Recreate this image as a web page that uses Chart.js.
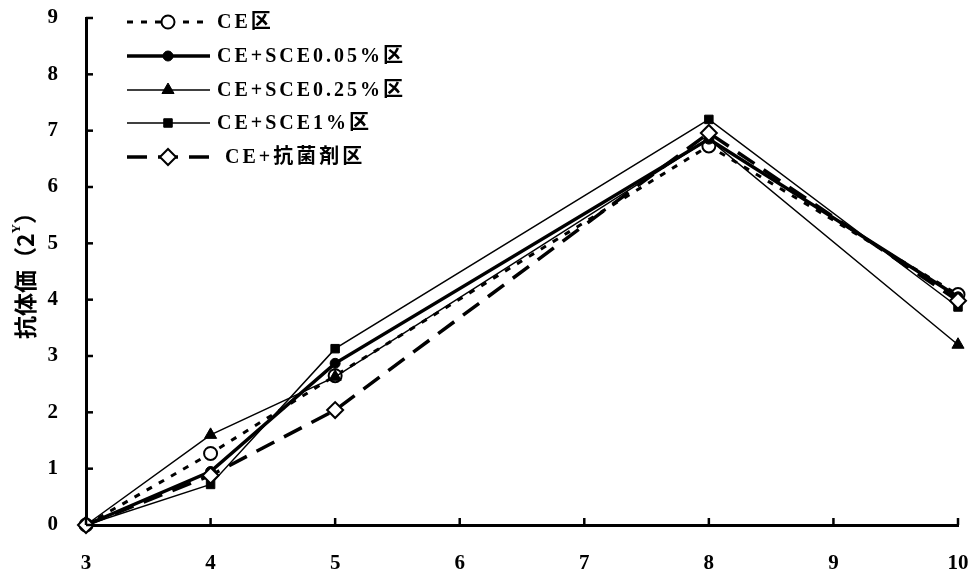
<!DOCTYPE html>
<html>
<head>
<meta charset="utf-8">
<script src="https://cdn.jsdelivr.net/npm/chart.js@4/dist/chart.umd.min.js"></script>
<style>
  html, body { margin: 0; padding: 0; background: #fff; }
  #wrap { width: 979px; height: 579px; position: relative; }
</style>
</head>
<body>
<div id="wrap"><canvas id="chart"></canvas></div>
<script>
// days after inoculation (x) and antibody titre (log2) per group
const xDays = [3, 4, 5, 8, 10];
const ceVals = [0, 1.27, 2.65, 6.73, 4.09];
const sce005Vals = [0, 0.95, 2.87, 6.85, 4.05];
const sce025Vals = [0, 1.6, 2.63, 6.85, 3.2];
const sce1Vals = [0, 0.72, 3.13, 7.2, 3.87];
const antiVals = [0, 0.88, 2.04, 6.96, 3.98];
const seriesLabels = ['CE区', 'CE+SCE0.05%区', 'CE+SCE0.25%区', 'CE+SCE1%区', ' CE+抗菌剤区'];
const xTicks = [3, 4, 5, 6, 7, 8, 9, 10];
const yTicks = [0, 1, 2, 3, 4, 5, 6, 7, 8, 9];

const numFont = { family: '"Liberation Serif", "DejaVu Serif", serif', size: 21, weight: 'bold' };
const legendFont = 'bold 20px "Liberation Serif", "Noto Sans CJK JP", serif';

function pts(vals) {
    return vals.map((v, i) => ({ x: xDays[i], y: v }));
}

// inward tick marks, y title with superscript, legend inside the plot
const decorPlugin = {
    id: 'decor',
    afterDraw(chart) {
        const ctx = chart.ctx;
        const xs = chart.scales.x, ys = chart.scales.y;
        const area = chart.chartArea;
        ctx.save();
        ctx.strokeStyle = '#000';
        ctx.lineWidth = 2.5;
        yTicks.forEach(t => {
            const py = ys.getPixelForValue(t);
            ctx.beginPath();
            ctx.moveTo(area.left, py);
            ctx.lineTo(area.left + 7, py);
            ctx.stroke();
        });
        xTicks.forEach(t => {
            const px = xs.getPixelForValue(t);
            ctx.beginPath();
            ctx.moveTo(px, area.bottom);
            ctx.lineTo(px, area.bottom - 7);
            ctx.stroke();
        });

        // y axis title
        ctx.translate(25, 270);
        ctx.rotate(-Math.PI / 2);
        ctx.fillStyle = '#000';
        ctx.textBaseline = 'middle';
        const bigFont = 'bold 23px "Noto Sans CJK JP", serif';
        const smallFont = 'bold 13px "Liberation Serif", serif';
        ctx.font = bigFont;
        const w1 = ctx.measureText('抗体価（2').width;
        const w3 = ctx.measureText('）').width;
        ctx.font = smallFont;
        const w2 = ctx.measureText('Y').width;
        let x0 = -(w1 + w2 + w3) / 2;
        ctx.font = bigFont;
        ctx.fillText('抗体価（2', x0, 0);
        ctx.font = smallFont;
        ctx.fillText('Y', x0 + w1, -8);
        ctx.font = bigFont;
        ctx.fillText('）', x0 + w1 + w2, 0);
        ctx.restore();

        // legend
        const rowY = [22, 56, 90, 123, 157];
        ctx.save();
        chart.data.datasets.forEach((ds, i) => {
            const y = rowY[i];
            ctx.strokeStyle = '#000';
            ctx.lineWidth = ds.borderWidth;
            ctx.setLineDash(ds.borderDash || []);
            ctx.beginPath();
            ctx.moveTo(127, y);
            ctx.lineTo(210, y);
            ctx.stroke();
            ctx.setLineDash([]);
            ctx.fillStyle = ds.pointBackgroundColor;
            ctx.strokeStyle = '#000';
            ctx.lineWidth = ds.pointBorderWidth;
            Chart.helpers.drawPoint(ctx, {
                pointStyle: ds.pointStyle,
                radius: ds.pointRadius,
                rotation: 0,
                borderWidth: ds.pointBorderWidth
            }, 168, y);
            ctx.fillStyle = '#000';
            ctx.font = legendFont;
            ctx.letterSpacing = '3px';
            ctx.textBaseline = 'middle';
            ctx.fillText(ds.label, 217, y + 1);
        });
        ctx.restore();
    }
};

new Chart(document.getElementById('chart'), {
    type: 'line',
    data: {
        datasets: [
            {
                label: seriesLabels[0], data: pts(ceVals), order: 5,
                borderColor: '#000', borderWidth: 3, borderDash: [6, 8],
                pointStyle: 'circle', pointRadius: 6.5, pointBorderWidth: 2,
                pointBackgroundColor: '#fff', pointBorderColor: '#000'
            },
            {
                label: seriesLabels[1], data: pts(sce005Vals), order: 4,
                borderColor: '#000', borderWidth: 3.5,
                pointStyle: 'circle', pointRadius: 5, pointBorderWidth: 1,
                pointBackgroundColor: '#000', pointBorderColor: '#000'
            },
            {
                label: seriesLabels[2], data: pts(sce025Vals), order: 3,
                borderColor: '#000', borderWidth: 1.5,
                pointStyle: 'triangle', pointRadius: 7, pointBorderWidth: 1,
                pointBackgroundColor: '#000', pointBorderColor: '#000'
            },
            {
                label: seriesLabels[3], data: pts(sce1Vals), order: 2,
                borderColor: '#000', borderWidth: 1.5,
                pointStyle: 'rect', pointRadius: 6, pointBorderWidth: 1,
                pointBackgroundColor: '#000', pointBorderColor: '#000'
            },
            {
                label: seriesLabels[4], data: pts(antiVals), order: 1,
                borderColor: '#000', borderWidth: 3.5, borderDash: [20, 11],
                pointStyle: 'rectRot', pointRadius: 8, pointBorderWidth: 2,
                pointBackgroundColor: '#fff', pointBorderColor: '#000'
            }
        ]
    },
    plugins: [decorPlugin],
    options: {
        responsive: true,
        maintainAspectRatio: false,
        animation: false,
        clip: false,
        layout: { padding: { left: 0, top: 18, right: 21, bottom: 0 } },
        elements: { line: { tension: 0 } },
        plugins: { legend: { display: false }, tooltip: { enabled: false } },
        scales: {
            x: {
                type: 'linear', min: 3, max: 10,
                afterBuildTicks: s => { s.ticks = xTicks.map(v => ({ value: v })); },
                afterFit: s => { s.height = 54; s.paddingLeft = 0; s.paddingRight = 0; },
                grid: { display: false },
                border: { display: true, color: '#000', width: 3 },
                ticks: { color: '#000', font: numFont, padding: 18, maxRotation: 0 }
            },
            y: {
                min: 0, max: 9,
                afterBuildTicks: s => { s.ticks = yTicks.map(v => ({ value: v })); },
                afterFit: s => { s.width = 86; s.paddingTop = 0; s.paddingBottom = 0; },
                grid: { display: false },
                border: { display: true, color: '#000', width: 3 },
                ticks: { color: '#000', font: numFont, padding: 20 }
            }
        }
    }
});
</script>
</body>
</html>
